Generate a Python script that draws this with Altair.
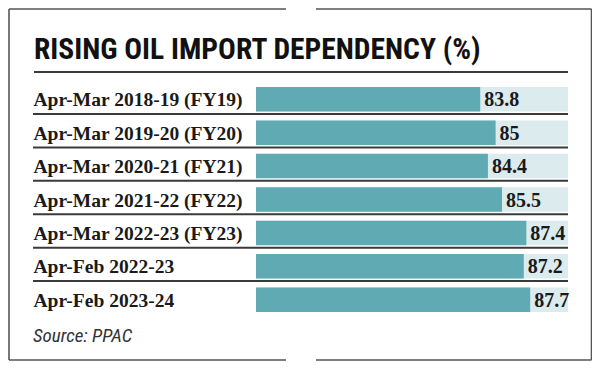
import altair as alt
import pandas as pd

labels = [
    "Apr-Mar 2018-19 (FY19)",
    "Apr-Mar 2019-20 (FY20)",
    "Apr-Mar 2020-21 (FY21)",
    "Apr-Mar 2021-22 (FY22)",
    "Apr-Mar 2022-23 (FY23)",
    "Apr-Feb 2022-23",
    "Apr-Feb 2023-24",
]
values = [83.8, 85, 84.4, 85.5, 87.4, 87.2, 87.7]
value_text = ["83.8", "85", "84.4", "85.5", "87.4", "87.2", "87.7"]
title_text = "RISING OIL IMPORT DEPENDENCY (%)"
source_text = "Source: PPAC"

X_MIN, X_MAX = 66.3, 90.65

df = pd.DataFrame({"label": labels, "value": values, "text": value_text})
one = pd.DataFrame({"k": [0]})

BAR = "#60aab4"
TRACK = "#dcebee"
INK = "#1a1a1a"
LINE = "#3a3a3a"
FRAME = "#555555"

ysc = alt.Scale(paddingInner=0.2665, paddingOuter=0)
yaxis = alt.Axis(
    title=None, ticks=False, domain=False, tickSize=0, grid=False,
    labelAlign="left", labelPadding=223, labelFont="Liberation Serif",
    labelFontWeight="bold", labelFontSize=19.5, labelColor=INK,
    labelLimit=0, labelOffset=1,
)
xsc = alt.Scale(domain=[X_MIN, X_MAX], zero=False, nice=False)


def yenc(**kw):
    return alt.Y("label:N", sort=labels, scale=ysc, axis=yaxis, **kw)


base = alt.Chart(df)

track = base.mark_bar(color=TRACK).encode(
    y=yenc(),
    x=alt.X(datum=X_MIN, scale=xsc, axis=None),
    x2=alt.X2(datum=X_MAX),
)
bars = base.mark_bar(color=BAR).encode(
    y=yenc(),
    x=alt.X("value:Q", scale=xsc, axis=None),
    x2=alt.X2(datum=X_MIN),
)
vals = base.mark_text(
    align="left", baseline="middle", dx=4, dy=1,
    font="Liberation Serif", fontWeight="bold", fontSize=20, color=INK,
).encode(y=yenc(), x=alt.X("value:Q", scale=xsc, axis=None), text="text:N")

seps = base.transform_filter(
    alt.FieldOneOfPredicate(field="label", oneOf=labels[:-1])
).mark_rule(color=LINE, strokeWidth=2, yOffset=2.5).encode(
    y=yenc(bandPosition=1),
    x=alt.value(-223),
    x2=alt.value(312),
)

deco = alt.Chart(one)


def hline(x1, x2, y, color=FRAME, w=1.6):
    return deco.mark_rule(color=color, strokeWidth=w).encode(
        x=alt.value(x1), x2=alt.value(x2), y=alt.value(y)
    )


def vline(x, y1, y2, color=FRAME, w=1.6):
    return deco.mark_rule(color=color, strokeWidth=w).encode(
        x=alt.value(x), y=alt.value(y1), y2=alt.value(y2)
    )


FR_L, FR_R, FR_T, FR_B = -247, 335.5, -78, 273
frame = [
    hline(FR_L, 30, FR_T),
    hline(60, FR_R, FR_T),
    hline(FR_L, 30, FR_B),
    hline(60, FR_R, FR_B),
    vline(FR_L, FR_T, FR_B),
    vline(FR_R, FR_T, FR_B),
]
underline = hline(-222, 312, -15, color=LINE, w=1.8)

title = deco.mark_text(
    align="left", baseline="alphabetic",
    font="Roboto Condensed, Roboto", fontWeight="bold", fontSize=29.5, color="#111111",
).encode(x=alt.value(-222), y=alt.value(-28), text=alt.value(title_text))

source = deco.mark_text(
    align="left", baseline="alphabetic",
    font="Roboto Condensed, Roboto", fontStyle="italic", fontSize=19, color="#333333",
).encode(x=alt.value(-223), y=alt.value(255), text=alt.value(source_text))

chart = alt.layer(
    track, bars, vals, seps, underline, title, source, *frame
).properties(
    width=312,
    height=225,
    autosize=alt.AutoSizeParams(type="none"),
    padding={"left": 248, "top": 79, "right": 24, "bottom": 49},
    background="white",
).configure_view(stroke=None)

chart.save("out.html", embed_options={"renderer": "svg", "actions": False})
